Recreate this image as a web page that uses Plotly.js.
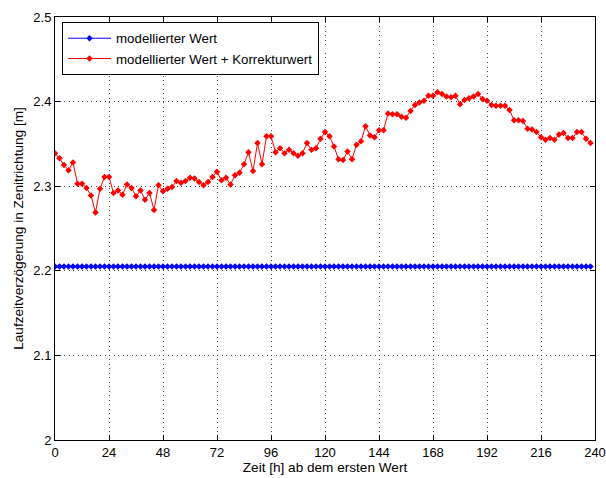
<!DOCTYPE html>
<html>
<head>
<meta charset="utf-8">
<script src="https://cdn.plot.ly/plotly-3.0.1.min.js"></script>
<style>html,body{margin:0;padding:0;background:#fff;}#chart{width:606px;height:478px;}</style>
</head>
<body>
<div id="chart"></div>
<script>
// Zeitpunkte in Stunden ab dem ersten Wert (alle 2 h)
const zeit = [];
for (let h = 0; h <= 238; h += 2) zeit.push(h);

// modellierter Wert (konstant)
const modellWert = 2.205;

// modellierter Wert + Korrekturwert [m]
const korrigiert = [
  2.339, 2.333, 2.325, 2.319, 2.328, 2.303, 2.303, 2.298, 2.289, 2.269,
  2.297, 2.311, 2.311, 2.292, 2.295, 2.290, 2.302, 2.298, 2.288, 2.295,
  2.284, 2.292, 2.272, 2.301, 2.294, 2.297, 2.299, 2.306, 2.304, 2.306,
  2.310, 2.309, 2.305, 2.301, 2.305, 2.311, 2.317, 2.307, 2.310, 2.302,
  2.313, 2.316, 2.326, 2.340, 2.318, 2.351, 2.326, 2.359, 2.359, 2.340,
  2.345, 2.339, 2.343, 2.339, 2.336, 2.339, 2.351, 2.343, 2.345, 2.356,
  2.364, 2.359, 2.347, 2.332, 2.331, 2.341, 2.332, 2.349, 2.353, 2.371,
  2.360, 2.358, 2.366, 2.366, 2.386, 2.385, 2.385, 2.382, 2.381, 2.389,
  2.396, 2.399, 2.401, 2.407, 2.407, 2.411, 2.409, 2.406, 2.405, 2.407,
  2.397, 2.402, 2.404, 2.406, 2.409, 2.403, 2.401, 2.396, 2.395, 2.395,
  2.395, 2.390, 2.378, 2.378, 2.377, 2.368, 2.367, 2.364, 2.358, 2.355,
  2.357, 2.355, 2.361, 2.363, 2.357, 2.357, 2.364, 2.364, 2.356, 2.351
];

const xTicks = [0, 24, 48, 72, 96, 120, 144, 168, 192, 216, 240];
const yTicks = [2, 2.1, 2.2, 2.3, 2.4, 2.5];

const FONT = 'Liberation Sans, Arial, sans-serif';

const traces = [
  {
    x: zeit,
    y: zeit.map(() => modellWert),
    name: 'modellierter Wert',
    mode: 'lines+markers',
    line: {color: '#0000ff', width: 1},
    marker: {symbol: 'diamond', size: 5, color: '#0000ff'}
  },
  {
    x: zeit,
    y: korrigiert,
    name: 'modellierter Wert + Korrekturwert',
    mode: 'lines+markers',
    line: {color: '#ff0000', width: 1},
    marker: {symbol: 'diamond', size: 5, color: '#ff0000'}
  }
];

const axisCommon = {
  showline: true,
  linecolor: '#000',
  linewidth: 1,
  mirror: 'ticks',
  ticks: 'inside',
  ticklen: 5,
  tickcolor: '#000',
  showgrid: true,
  gridcolor: '#444',
  griddash: '1px,3.5px',
  gridwidth: 1,
  zeroline: false,
  ticklabeloverflow: 'allow',
  tickfont: {family: FONT, size: 13, color: '#000'}
};

const layout = {
  width: 606,
  height: 478,
  margin: {l: 55, r: 11, t: 17, b: 38},
  paper_bgcolor: '#fff',
  plot_bgcolor: '#fff',
  showlegend: true,
  legend: {
    x: 0.013, y: 0.988, xanchor: 'left', yanchor: 'top',
    bgcolor: '#fff', bordercolor: '#000', borderwidth: 1,
    itemwidth: 43,
    font: {family: FONT, size: 13.3, color: '#000'},
    tracegroupgap: 0
  },
  xaxis: Object.assign({}, axisCommon, {
    range: [0, 240],
    tickvals: xTicks,
    ticktext: xTicks.map(String),
    title: {text: 'Zeit [h] ab dem ersten Wert', standoff: 3,
            font: {family: FONT, size: 13.6, color: '#000'}}
  }),
  yaxis: Object.assign({}, axisCommon, {
    range: [2, 2.5],
    tickvals: yTicks,
    ticktext: yTicks.map(String),
    title: {text: 'Laufzeitverzögerung in Zenitrichtung [m]', standoff: 6,
            font: {family: FONT, size: 13.6, color: '#000'}}
  })
};

Plotly.newPlot('chart', traces, layout, {displayModeBar: false, staticPlot: true});
</script>
</body>
</html>
